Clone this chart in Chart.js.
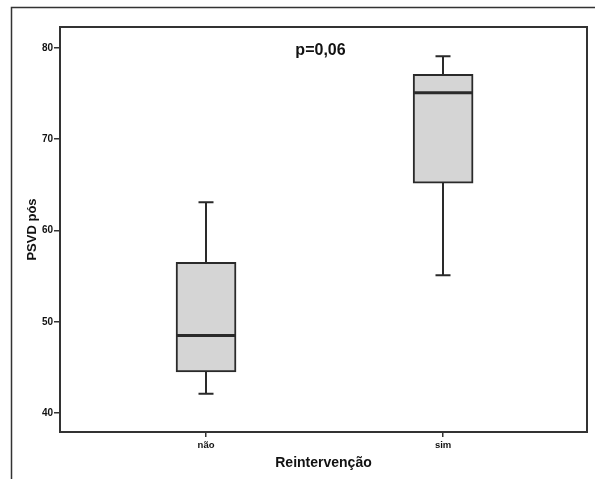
<!DOCTYPE html>
<html>
<head>
<meta charset="utf-8">
<script src="https://cdn.jsdelivr.net/npm/chart.js@4/dist/chart.umd.min.js"></script>
<style>
  html, body { margin: 0; padding: 0; background: #fff; }
  #wrap { width: 595px; height: 479px; position: relative; }
</style>
</head>
<body>
<div id="wrap"><canvas id="c" width="595" height="479"></canvas></div>
<script>
// ---- data ----
const categories = ['não', 'sim'];
const whiskerMin = [42.1, 55.1];
const q1Values = [44.5, 65.2];
const medianValues = [48.5, 75.1];
const q3Values = [56.5, 77.1];
const whiskerMax = [63.1, 79.1];
const yTickValues = [40, 50, 60, 70, 80];
const pValueText = 'p=0,06';
const xTitle = 'Reintervenção';
const yTitle = 'PSVD pós';

const INK = '#2a2a2a';
const FONT = "'Liberation Sans', Arial, Helvetica, sans-serif";

const boxData = categories.map((c, i) => ({ x: i, y: [q1Values[i], q3Values[i]] }));

const boxPlugin = {
  id: 'boxExtras',
  beforeDraw(chart) {
    const ctx = chart.ctx;
    ctx.save();
    ctx.strokeStyle = '#333';
    ctx.lineWidth = 1.5;
    ctx.beginPath();
    ctx.moveTo(11.5, 479);
    ctx.lineTo(11.5, 7.5);
    ctx.lineTo(595, 7.5);
    ctx.stroke();
    ctx.restore();
  },
  beforeDatasetsDraw(chart) {
    const { ctx, scales: { x, y } } = chart;
    ctx.save();
    ctx.strokeStyle = INK;
    ctx.lineWidth = 2;
    const capHalf = 7.5;
    categories.forEach((c, i) => {
      const px = Math.round(x.getPixelForValue(i));
      const yMax = y.getPixelForValue(whiskerMax[i]);
      const yQ3 = y.getPixelForValue(q3Values[i]);
      const yQ1 = y.getPixelForValue(q1Values[i]);
      const yMin = y.getPixelForValue(whiskerMin[i]);
      ctx.beginPath();
      ctx.moveTo(px, yMax); ctx.lineTo(px, yQ3);
      ctx.moveTo(px, yQ1); ctx.lineTo(px, yMin);
      ctx.moveTo(px - capHalf, yMax); ctx.lineTo(px + capHalf, yMax);
      ctx.moveTo(px - capHalf, yMin); ctx.lineTo(px + capHalf, yMin);
      ctx.stroke();
    });
    ctx.restore();
  },
  afterDatasetsDraw(chart) {
    const { ctx, chartArea: a, scales: { x, y } } = chart;
    const meta = chart.getDatasetMeta(0);
    ctx.save();
    ctx.strokeStyle = INK;
    ctx.lineWidth = 3;
    meta.data.forEach((bar, i) => {
      const half = bar.width / 2;
      const ym = y.getPixelForValue(medianValues[i]);
      ctx.beginPath();
      ctx.moveTo(bar.x - half + 1, ym);
      ctx.lineTo(bar.x + half - 1, ym);
      ctx.stroke();
    });
    // plot frame
    ctx.strokeStyle = '#333';
    ctx.lineWidth = 2;
    ctx.strokeRect(a.left, a.top, a.right - a.left, a.bottom - a.top);
    // p-value
    ctx.fillStyle = '#111';
    ctx.font = 'bold 16px ' + FONT;
    ctx.textAlign = 'center';
    ctx.textBaseline = 'middle';
    ctx.fillText(pValueText, (a.left + a.right) / 2 - 3, 51);
    ctx.restore();
  }
};

new Chart(document.getElementById('c'), {
  type: 'bar',
  data: {
    datasets: [{
      label: 'box',
      data: boxData,
      backgroundColor: '#d5d5d5',
      borderColor: INK,
      borderWidth: 2,
      borderSkipped: false,
      barThickness: 60
    }]
  },
  options: {
    responsive: false,
    animation: false,
    devicePixelRatio: 1,
    layout: { padding: { top: 27, right: 8, left: 0, bottom: 0 } },
    plugins: { legend: { display: false }, tooltip: { enabled: false }, title: { display: false } },
    scales: {
      x: {
        type: 'linear',
        offset: false,
        min: -0.616,
        max: 1.607,
        afterBuildTicks(scale) { scale.ticks = categories.map((c, i) => ({ value: i })); },
        afterFit(scale) { scale.height = 47; },
        ticks: {
          callback: (v) => categories[v],
          color: '#111',
          font: { family: FONT, size: 9.5, weight: 'bold' },
          padding: 3,
          maxRotation: 0
        },
        grid: { offset: false, drawOnChartArea: false, drawTicks: true, tickLength: 5, tickColor: '#333', lineWidth: 1.5 },
        border: { display: true, color: '#333', width: 2 },
        title: {
          display: true, text: xTitle, color: '#111',
          font: { family: FONT, size: 14, weight: 'bold' },
          padding: { top: 0, bottom: 7 }
        }
      },
      y: {
        type: 'linear',
        min: 37.92,
        max: 82.3,
        afterBuildTicks(scale) { scale.ticks = yTickValues.map(v => ({ value: v })); },
        afterFit(scale) { scale.width = 60; },
        ticks: {
          callback: (v) => String(v),
          color: '#111',
          font: { family: FONT, size: 10, weight: 'bold' },
          padding: 1
        },
        grid: { drawOnChartArea: false, drawTicks: true, tickLength: 6, tickColor: '#333', lineWidth: 1.5 },
        border: { display: true, color: '#333', width: 2 },
        title: {
          display: true, text: yTitle, color: '#111',
          font: { family: FONT, size: 13, weight: 'bold' },
          padding: { top: 25, bottom: 0 }
        }
      }
    }
  },
  plugins: [boxPlugin]
});
</script>
</body>
</html>
